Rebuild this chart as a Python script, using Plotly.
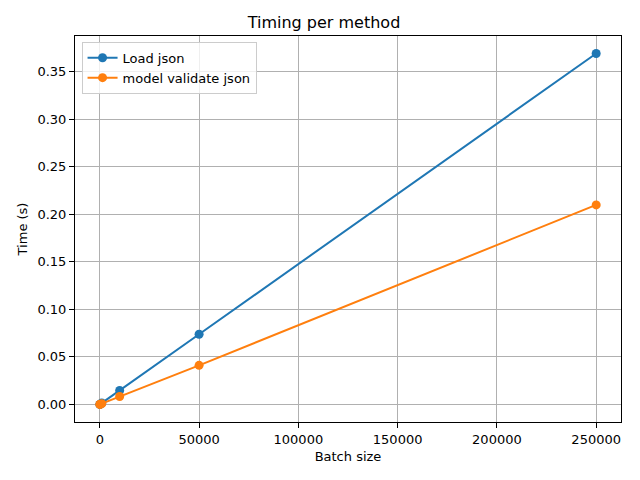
import plotly.graph_objects as go

batch_sizes = [10, 100, 1000, 10000, 50000, 250000]
load_json = [0.00002, 0.00015, 0.0015, 0.0148, 0.0738, 0.369]
model_validate_json = [0.00001, 0.00009, 0.0008, 0.0084, 0.0411, 0.2098]

fig = go.Figure()
fig.add_trace(go.Scatter(x=batch_sizes, y=load_json, mode="lines+markers", name="Load json",
                         line=dict(color="#1f77b4", width=2), marker=dict(size=9, color="#1f77b4")))
fig.add_trace(go.Scatter(x=batch_sizes, y=model_validate_json, mode="lines+markers", name="model validate json",
                         line=dict(color="#ff7f0e", width=2), marker=dict(size=9, color="#ff7f0e")))

axis_common = dict(showline=True, linecolor="black", linewidth=1, mirror=True,
                   ticks="outside", ticklen=5, tickcolor="black", automargin=False,
                   showgrid=True, gridcolor="#b0b0b0", gridwidth=1, zeroline=False,
                   tickfont=dict(size=13, color="black"))
# page body has an 8px margin; figure is sized so the plot lands where the reference has it
fig.update_layout(
    width=632, height=472,
    paper_bgcolor="white", plot_bgcolor="white",
    font=dict(family="DejaVu Sans", color="black"),
    margin=dict(l=67, r=19, t=28, b=58),
    title=dict(text="Timing per method", x=0.5, xanchor="center", y=0.970, yanchor="middle",
               font=dict(size=16, color="black")),
    xaxis=dict(title=dict(text="Batch size", font=dict(size=13), standoff=6),
               range=[-12500, 262500], tickvals=[0, 50000, 100000, 150000, 200000, 250000],
               tickformat="d", **axis_common),
    yaxis=dict(title=dict(text="Time (s)", font=dict(size=13), standoff=6),
               range=[-0.01845, 0.3874], tickvals=[0, 0.05, 0.1, 0.15, 0.2, 0.25, 0.3, 0.35],
               tickformat=".2f", **axis_common),
    legend=dict(x=0.012, y=0.985, xanchor="left", yanchor="top",
                bgcolor="rgba(255,255,255,0.8)", bordercolor="#cccccc", borderwidth=1,
                font=dict(size=13, color="black")),
    showlegend=True,
)
fig.write_html("out.html")
